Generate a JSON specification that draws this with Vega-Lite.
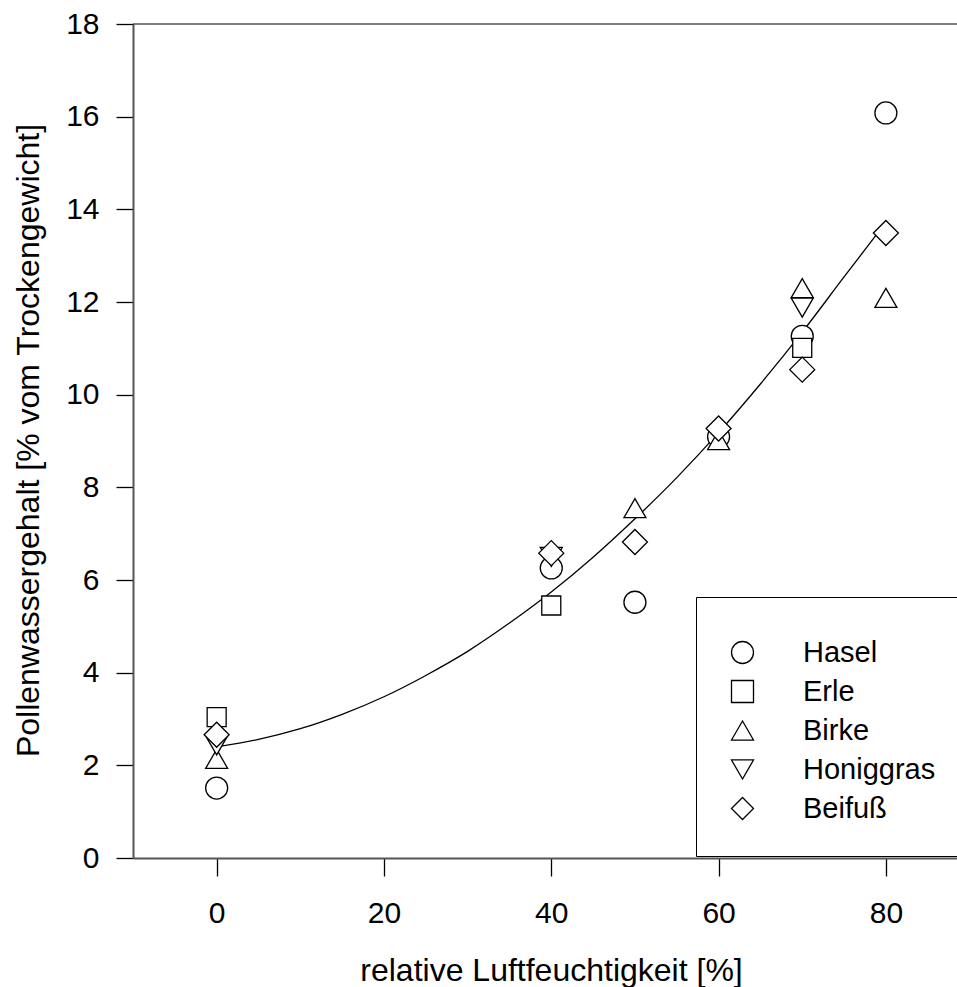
{
  "$schema": "https://vega.github.io/schema/vega-lite/v6.json",
  "width": 824,
  "height": 834,
  "autosize": {"type": "none"},
  "padding": {"left": 133, "top": 24, "right": 0, "bottom": 129},
  "background": "white",
  "config": {
    "view": {"stroke": null},
    "font": "Liberation Sans",
    "axis": {
      "grid": false,
      "domainColor": "#555555",
      "domainWidth": 2,
      "tickColor": "black",
      "tickWidth": 1.3,
      "labelColor": "black",
      "titleColor": "black",
      "labelFont": "Liberation Sans",
      "titleFont": "Liberation Sans",
      "labelFontSize": 30,
      "titleFontSize": 32,
      "titleFontWeight": "normal"
    },
    "legend": {
      "orient": "none",
      "legendX": 563,
      "legendY": 573,
      "padding": 32,
      "strokeColor": "black",
      "strokeWidth": 1,
      "fillColor": "white",
      "labelFont": "Liberation Sans",
      "labelFontSize": 29,
      "labelColor": "black",
      "symbolSize": 484,
      "symbolStrokeWidth": 1.3,
      "rowPadding": 9,
      "labelOffset": 46,
      "titleFontSize": 1,
      "titlePadding": 8
    }
  },
  "datasets": {
    "curve": [
      {"x": 0, "y": 2.40}, {"x": 5, "y": 2.56}, {"x": 10, "y": 2.79}, {"x": 15, "y": 3.10},
      {"x": 20, "y": 3.48}, {"x": 25, "y": 3.94}, {"x": 30, "y": 4.46}, {"x": 35, "y": 5.07},
      {"x": 40, "y": 5.74}, {"x": 45, "y": 6.49}, {"x": 50, "y": 7.32}, {"x": 55, "y": 8.21},
      {"x": 60, "y": 9.18}, {"x": 65, "y": 10.23}, {"x": 70, "y": 11.35}, {"x": 75, "y": 12.54},
      {"x": 80, "y": 13.72}
    ],
    "points": [
      {"species": "Hasel", "x": 0, "y": 1.51},
      {"species": "Hasel", "x": 40, "y": 6.26},
      {"species": "Hasel", "x": 50, "y": 5.52},
      {"species": "Hasel", "x": 60, "y": 9.09},
      {"species": "Hasel", "x": 70, "y": 11.26},
      {"species": "Hasel", "x": 80, "y": 16.08},
      {"species": "Erle", "x": 0, "y": 3.04},
      {"species": "Erle", "x": 40, "y": 5.45},
      {"species": "Erle", "x": 70, "y": 11.01},
      {"species": "Birke", "x": 0, "y": 2.14},
      {"species": "Birke", "x": 50, "y": 7.55},
      {"species": "Birke", "x": 60, "y": 9.02},
      {"species": "Birke", "x": 70, "y": 12.3},
      {"species": "Birke", "x": 80, "y": 12.09},
      {"species": "Honiggras", "x": 0, "y": 2.43},
      {"species": "Honiggras", "x": 40, "y": 6.5},
      {"species": "Honiggras", "x": 70, "y": 11.88},
      {"species": "Beifuß", "x": 0, "y": 2.66},
      {"species": "Beifuß", "x": 40, "y": 6.58},
      {"species": "Beifuß", "x": 50, "y": 6.82},
      {"species": "Beifuß", "x": 60, "y": 9.27},
      {"species": "Beifuß", "x": 70, "y": 10.54},
      {"species": "Beifuß", "x": 80, "y": 13.49}
    ]
  },
  "layer": [
    {
      "data": {"name": "curve"},
      "mark": {"type": "line", "color": "black", "strokeWidth": 1.3, "interpolate": "monotone"},
      "encoding": {
        "x": {
          "field": "x", "type": "quantitative",
          "scale": {"domain": [-10, 88.5], "nice": false, "zero": false},
          "axis": {
            "values": [0, 20, 40, 60, 80],
            "tickSize": 18,
            "labelPadding": 22,
            "labelFlush": false,
            "title": "relative Luftfeuchtigkeit [%]",
            "titleX": 418,
            "titleY": 122,
            "titleAlign": "center",
            "titleBaseline": "alphabetic"
          }
        },
        "y": {
          "field": "y", "type": "quantitative",
          "scale": {"domain": [0, 18], "nice": false},
          "axis": {
            "values": [0, 2, 4, 6, 8, 10, 12, 14, 16, 18],
            "tickSize": 17,
            "labelPadding": 17,
            "labelFlush": false,
            "title": "Pollenwassergehalt [% vom Trockengewicht]",
            "titleX": -95,
            "titleY": 416,
            "titleAngle": -90,
            "titleAlign": "center",
            "titleBaseline": "alphabetic"
          }
        }
      }
    },
    {
      "data": {"values": [{}]},
      "mark": {"type": "rule", "color": "black", "strokeWidth": 1},
      "encoding": {"y": {"datum": 18}}
    },
    {
      "data": {"name": "points"},
      "mark": {"type": "point", "filled": false, "color": "black", "fill": "white", "fillOpacity": 1, "strokeWidth": 1.3, "opacity": 1},
      "encoding": {
        "x": {"field": "x", "type": "quantitative"},
        "y": {"field": "y", "type": "quantitative"},
        "shape": {
          "field": "species", "type": "nominal",
          "scale": {
            "domain": ["Hasel", "Erle", "Birke", "Honiggras", "Beifuß"],
            "range": ["circle", "square", "triangle-up", "triangle-down", "diamond"]
          },
          "legend": {"title": " "}
        },
        "size": {
          "condition": [
            {"test": "datum.species === 'Beifuß'", "value": 625},
            {"test": "datum.species === 'Erle'", "value": 361}
          ],
          "value": 484
        }
      }
    }
  ]
}
